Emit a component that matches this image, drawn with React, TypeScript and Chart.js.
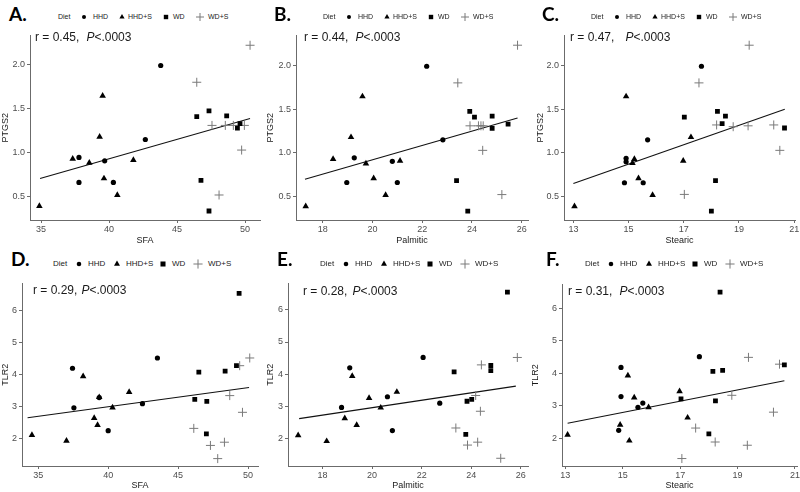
import React, { useEffect, useRef } from "react";
import { Chart, registerables } from "chart.js";
Chart.register(...registerables);

type Pt = [number, number];

const DIETS = ["HHD", "HHD+S", "WD", "WD+S"];

// ---------- Panel A: SFA vs PTGS2 ----------
const A_HHD: Pt[] = [[43.8, 1.99], [42.67, 1.15], [37.79, 0.946], [39.68, 0.908], [37.79, 0.663], [40.32, 0.663]];
const A_HHDS: Pt[] = [[34.88, 0.394], [39.53, 1.645], [39.31, 1.18], [37.33, 0.93], [38.55, 0.885], [39.63, 0.708], [41.79, 0.916], [40.61, 0.52]];
const A_WD: Pt[] = [[46.45, 1.41], [47.35, 1.475], [48.65, 1.418], [49.44, 1.28], [49.63, 1.33], [46.76, 0.685], [47.35, 0.338]];
const A_WDS: Pt[] = [[50.37, 2.22], [46.45, 1.8], [47.57, 1.31], [48.55, 1.31], [49.14, 1.31], [49.95, 1.31], [49.75, 1.03], [48.09, 0.52]];
const A_LINE: Pt[] = [[34.93, 0.708], [50.37, 1.388]];

// ---------- Panel B: Palmitic vs PTGS2 ----------
const B_HHD: Pt[] = [[22.18, 1.99], [22.83, 1.15], [19.27, 0.945], [20.8, 0.905], [18.97, 0.663], [21.0, 0.663]];
const B_HHDS: Pt[] = [[17.32, 0.39], [19.6, 1.645], [19.14, 1.18], [18.42, 0.93], [19.74, 0.88], [20.05, 0.71], [21.11, 0.91], [20.53, 0.52]];
const B_WD: Pt[] = [[23.91, 1.475], [24.1, 1.41], [24.81, 1.42], [24.81, 1.28], [25.45, 1.33], [23.38, 0.685], [23.83, 0.337]];
const B_WDS: Pt[] = [[25.83, 2.23], [23.43, 1.8], [23.92, 1.31], [24.26, 1.31], [24.36, 1.31], [24.45, 1.31], [24.43, 1.03], [25.2, 0.525]];
const B_LINE: Pt[] = [[17.29, 0.7], [25.83, 1.4]];

// ---------- Panel C: Stearic vs PTGS2 ----------
const C_HHD: Pt[] = [[17.64, 1.99], [15.69, 1.15], [14.91, 0.94], [14.91, 0.9], [14.85, 0.66], [15.53, 0.66]];
const C_HHDS: Pt[] = [[13.04, 0.39], [14.91, 1.645], [17.26, 1.18], [15.21, 0.93], [15.14, 0.885], [15.36, 0.71], [16.98, 0.91], [15.87, 0.52]];
const C_WD: Pt[] = [[17.02, 1.41], [18.22, 1.475], [18.51, 1.42], [18.39, 1.335], [20.65, 1.285], [18.15, 0.685], [18.0, 0.337]];
const C_WDS: Pt[] = [[19.37, 2.23], [17.55, 1.8], [18.19, 1.32], [18.79, 1.3], [19.33, 1.31], [20.26, 1.32], [20.48, 1.03], [17.02, 0.527]];
const C_LINE: Pt[] = [[13.0, 0.652], [20.66, 1.5]];

// ---------- Panel D: SFA vs TLR2 ----------
const D_HHD: Pt[] = [[43.52, 4.52], [37.45, 4.2], [37.55, 2.97], [39.36, 3.29], [42.45, 3.1], [40.0, 2.26]];
const D_HHDS: Pt[] = [[34.55, 2.12], [37.02, 1.94], [38.21, 3.95], [39.36, 3.3], [41.5, 3.46], [40.31, 2.98], [39.0, 2.65], [39.24, 2.43]];
const D_WD: Pt[] = [[49.36, 6.53], [46.48, 4.08], [48.36, 4.11], [49.17, 4.28], [46.19, 3.23], [47.05, 3.17], [47.02, 2.16]];
const D_WDS: Pt[] = [[50.12, 4.52], [49.4, 4.28], [48.69, 3.35], [49.6, 2.83], [46.12, 2.33], [47.31, 1.8], [48.31, 1.9], [47.83, 1.39]];
const D_LINE: Pt[] = [[34.24, 2.66], [50.07, 3.6]];

// ---------- Panel E: Palmitic vs TLR2 ----------
const E_HHD: Pt[] = [[22.06, 4.52], [19.1, 4.2], [18.77, 2.97], [20.62, 3.3], [22.73, 3.1], [20.82, 2.25]];
const E_HHDS: Pt[] = [[17.02, 2.1], [18.17, 1.92], [19.2, 3.94], [19.88, 3.26], [21.0, 3.45], [20.35, 2.96], [18.9, 2.63], [19.38, 2.42]];
const E_WD: Pt[] = [[25.46, 6.55], [23.31, 4.07], [24.79, 4.27], [24.79, 4.11], [23.83, 3.16], [24.02, 3.22], [23.78, 2.13]];
const E_WDS: Pt[] = [[25.86, 4.52], [24.41, 4.29], [24.18, 3.34], [24.37, 2.85], [23.38, 2.33], [23.85, 1.8], [24.26, 1.89], [25.19, 1.39]];
const E_LINE: Pt[] = [[17.06, 2.62], [25.8, 3.63]];

// ---------- Panel F: Stearic vs TLR2 ----------
const F_HHD: Pt[] = [[17.67, 4.51], [14.94, 4.18], [14.94, 3.28], [15.7, 3.08], [15.53, 2.95], [14.86, 2.24]];
const F_HHDS: Pt[] = [[13.08, 2.1], [15.23, 1.92], [15.18, 3.93], [15.4, 3.25], [16.98, 3.44], [15.9, 2.95], [17.26, 2.63], [14.91, 2.41]];
const F_WD: Pt[] = [[18.39, 6.5], [18.14, 4.06], [18.48, 4.09], [20.63, 4.26], [17.03, 3.21], [18.23, 3.15], [18.0, 2.13]];
const F_WDS: Pt[] = [[19.38, 4.49], [20.46, 4.28], [18.8, 3.32], [20.25, 2.8], [17.54, 2.31], [19.34, 1.78], [18.22, 1.88], [17.06, 1.37]];
const F_LINE: Pt[] = [[13.08, 2.46], [20.63, 3.77]];

// ---------- Tick labels ----------
const SFA_TICKS = [35, 40, 45, 50];
const PALMITIC_TICKS = [18, 20, 22, 24, 26];
const STEARIC_TICKS = [13, 15, 17, 19, 21];
const PTGS2_TICKS = [0.5, 1.0, 1.5, 2.0];
const TLR2_TICKS = [2, 3, 4, 5, 6];

const R_TEXTS = ["r = 0.45,", "r = 0.44,", "r = 0.47,", "r = 0.29,", "r = 0.28,", "r = 0.31,"];
const P_TEXT = "P<.0003";

const FONT = "'Liberation Sans', Arial, Helvetica, sans-serif";
const AXIS_COLOR = "#6b6b6b";
const TICK_COLOR = "#4d4d4d";
const TITLE_COLOR = "#1a1a1a";

const POINT_STYLES = ["circle", "triangle", "rect", "cross"];
const POINT_RADII = [2.6, 3.8, 3.4, 4.5];
const POINT_COLORS = ["#000000", "#000000", "#000000", "#7a7a7a"];

interface PanelCfg {
  letter: string;
  xLabel: string;
  yLabel: string;
  series: Pt[][];
  line: Pt[];
  xTicks: number[];
  yTicks: number[];
  yDec: number;
  xMin: number; xMax: number; yMin: number; yMax: number;
  cx: number; cy: number; cw: number; ch: number;
  yAxisW: number; xAxisH: number; padTop: number; padRight: number;
  letterX: number; letterY: number;
  legX: number; legY: number; legFs: number; legOffs: number[];
  rText: string; rGap: number; rX: number; rY: number;
}

const OFFS_TOP = [0, 26, 35, 64, 70, 108, 115, 142, 150];
const OFFS_BOT = [0, 26, 35, 64, 73, 110, 119, 145, 155];

const PANELS: PanelCfg[] = [
  {
    letter: "A.", xLabel: "SFA", yLabel: "PTGS2",
    series: [A_HHD, A_HHDS, A_WD, A_WDS], line: A_LINE,
    xTicks: SFA_TICKS, yTicks: PTGS2_TICKS, yDec: 1,
    xMin: 34.19, xMax: 51.1, yMin: 0.236, yMax: 2.332,
    cx: 0, cy: 28, cw: 275, ch: 218, yAxisW: 30, xAxisH: 26, padTop: 7, padRight: 15,
    letterX: 9, letterY: 4, legX: 58, legY: 17, legFs: 7, legOffs: OFFS_TOP,
    rText: R_TEXTS[0], rGap: 7, rX: 35, rY: 37,
  },
  {
    letter: "B.", xLabel: "Palmitic", yLabel: "PTGS2",
    series: [B_HHD, B_HHDS, B_WD, B_WDS], line: B_LINE,
    xTicks: PALMITIC_TICKS, yTicks: PTGS2_TICKS, yDec: 1,
    xMin: 16.93, xMax: 26.25, yMin: 0.235, yMax: 2.342,
    cx: 265, cy: 28, cw: 278, ch: 218, yAxisW: 31, xAxisH: 26, padTop: 7, padRight: 15,
    letterX: 274, letterY: 4, legX: 323, legY: 17, legFs: 7, legOffs: OFFS_TOP,
    rText: R_TEXTS[1], rGap: 7, rX: 304, rY: 37,
  },
  {
    letter: "C.", xLabel: "Stearic", yLabel: "PTGS2",
    series: [C_HHD, C_HHDS, C_WD, C_WDS], line: C_LINE,
    xTicks: STEARIC_TICKS, yTicks: PTGS2_TICKS, yDec: 1,
    xMin: 12.66, xMax: 21.03, yMin: 0.235, yMax: 2.342,
    cx: 535, cy: 28, cw: 275, ch: 218, yAxisW: 29, xAxisH: 26, padTop: 7, padRight: 15,
    letterX: 542, letterY: 4, legX: 591, legY: 17, legFs: 7, legOffs: OFFS_TOP,
    rText: R_TEXTS[2], rGap: 11, rX: 570, rY: 37,
  },
  {
    letter: "D.", xLabel: "SFA", yLabel: "TLR2",
    series: [D_HHD, D_HHDS, D_WD, D_WDS], line: D_LINE,
    xTicks: SFA_TICKS, yTicks: TLR2_TICKS, yDec: 0,
    xMin: 33.84, xMax: 50.71, yMin: 1.16, yMax: 6.84,
    cx: 0, cy: 276, cw: 273, ch: 215, yAxisW: 22, xAxisH: 25, padTop: 7, padRight: 15,
    letterX: 11, letterY: 249, legX: 53, legY: 264, legFs: 8, legOffs: OFFS_BOT,
    rText: R_TEXTS[3], rGap: 4, rX: 33, rY: 290,
  },
  {
    letter: "E.", xLabel: "Palmitic", yLabel: "TLR2",
    series: [E_HHD, E_HHDS, E_WD, E_WDS], line: E_LINE,
    xTicks: PALMITIC_TICKS, yTicks: TLR2_TICKS, yDec: 0,
    xMin: 16.61, xMax: 26.29, yMin: 1.15, yMax: 6.82,
    cx: 265, cy: 276, cw: 278, ch: 215, yAxisW: 23, xAxisH: 25, padTop: 7, padRight: 15,
    letterX: 277, letterY: 249, legX: 320, legY: 264, legFs: 8, legOffs: OFFS_BOT,
    rText: R_TEXTS[4], rGap: 5, rX: 303, rY: 291,
  },
  {
    letter: "F.", xLabel: "Stearic", yLabel: "TLR2",
    series: [F_HHD, F_HHDS, F_WD, F_WDS], line: F_LINE,
    xTicks: STEARIC_TICKS, yTicks: TLR2_TICKS, yDec: 0,
    xMin: 12.885, xMax: 21.07, yMin: 1.14, yMax: 6.74,
    cx: 530, cy: 277, cw: 282, ch: 214, yAxisW: 32, xAxisH: 25, padTop: 7, padRight: 15,
    letterX: 546, letterY: 249, legX: 585, legY: 264, legFs: 8, legOffs: OFFS_BOT,
    rText: R_TEXTS[5], rGap: 7, rX: 568, rY: 291,
  },
];

function PanelChart({ p }: { p: PanelCfg }) {
  const ref = useRef<HTMLCanvasElement>(null);
  useEffect(() => {
    if (!ref.current) return;
    const datasets: any[] = p.series.map((pts, i) => ({
      label: DIETS[i],
      data: pts.map(([x, y]) => ({ x, y })),
      pointStyle: POINT_STYLES[i],
      pointRadius: POINT_RADII[i],
      backgroundColor: POINT_COLORS[i],
      borderColor: POINT_COLORS[i],
      borderWidth: i === 3 ? 1 : 0,
    }));
    datasets.push({
      label: "fit",
      data: p.line.map(([x, y]) => ({ x, y })),
      showLine: true,
      pointRadius: 0,
      borderColor: "#111111",
      borderWidth: 1.1,
      fill: false,
    });
    const tickFont = { family: FONT, size: 9 };
    const titleFont = { family: FONT, size: 9 };
    const chart = new Chart(ref.current, {
      type: "scatter",
      data: { datasets },
      options: {
        animation: false,
        responsive: false,
        maintainAspectRatio: false,
        events: [],
        layout: { padding: { top: p.padTop, right: p.padRight, left: 0, bottom: 0 }, autoPadding: false } as any,
        plugins: { legend: { display: false }, tooltip: { enabled: false } },
        scales: {
          x: {
            type: "linear",
            min: p.xMin,
            max: p.xMax,
            afterBuildTicks: (s: any) => { s.ticks = p.xTicks.map((v) => ({ value: v })); },
            afterFit: (s: any) => { s.height = p.xAxisH; },
            grid: { drawOnChartArea: false, drawTicks: true, tickLength: 3, color: AXIS_COLOR, lineWidth: 1 },
            border: { display: true, color: AXIS_COLOR, width: 1 },
            ticks: { color: TICK_COLOR, font: tickFont, padding: 1, maxRotation: 0, autoSkip: false, callback: (v: any) => String(v) },
            title: { display: true, text: p.xLabel, color: TITLE_COLOR, font: titleFont, padding: 0 },
          },
          y: {
            type: "linear",
            min: p.yMin,
            max: p.yMax,
            afterBuildTicks: (s: any) => { s.ticks = p.yTicks.map((v) => ({ value: v })); },
            afterFit: (s: any) => { s.width = p.yAxisW; },
            grid: { drawOnChartArea: false, drawTicks: true, tickLength: 3, color: AXIS_COLOR, lineWidth: 1 },
            border: { display: true, color: AXIS_COLOR, width: 1 },
            ticks: { color: TICK_COLOR, font: tickFont, padding: 2, autoSkip: false, callback: (v: any) => Number(v).toFixed(p.yDec) },
            title: { display: true, text: p.yLabel, color: TITLE_COLOR, font: titleFont, padding: 0 },
          },
        },
      } as any,
    });
    return () => chart.destroy();
  }, [p]);
  return (
    <canvas
      ref={ref}
      width={p.cw}
      height={p.ch}
      style={{ position: "absolute", left: p.cx, top: p.cy, width: p.cw, height: p.ch }}
    />
  );
}

function Symbol({ kind, cx, cy, s }: { kind: number; cx: number; cy: number; s: number }) {
  const size = 10;
  const h = size / 2;
  let el: any = null;
  if (kind === 0) el = <circle cx={h} cy={h} r={2 * s} fill="#000" />;
  if (kind === 1) {
    const r = 3 * s;
    el = <polygon points={`${h},${h - r} ${h + r * 0.866},${h + r * 0.5} ${h - r * 0.866},${h + r * 0.5}`} fill="#000" />;
  }
  if (kind === 2) el = <rect x={h - 2.2 * s} y={h - 2.2 * s} width={4.4 * s} height={4.4 * s} fill="#000" />;
  if (kind === 3) {
    const r = 4 * s;
    el = (
      <g stroke="#7a7a7a" strokeWidth={1}>
        <line x1={h - r} y1={h} x2={h + r} y2={h} />
        <line x1={h} y1={h - r} x2={h} y2={h + r} />
      </g>
    );
  }
  return (
    <svg width={size} height={size} style={{ position: "absolute", left: cx - h, top: cy - h, overflow: "visible" }}>
      {el}
    </svg>
  );
}

function Overlay({ p }: { p: PanelCfg }) {
  const fs = p.legFs;
  const textStyle = (x: number): React.CSSProperties => ({
    position: "absolute",
    left: x,
    top: p.legY - fs * 0.6,
    fontSize: fs,
    lineHeight: `${fs * 1.2}px`,
    color: "#222",
    whiteSpace: "nowrap",
    fontFamily: FONT,
  });
  const o = p.legOffs;
  const s = fs / 7;
  return (
    <>
      <div
        style={{
          position: "absolute", left: p.letterX, top: p.letterY, fontFamily: "Lato, 'Open Sans', sans-serif",
          fontWeight: 700, fontSize: 19, lineHeight: "19px", color: "#000",
        }}
      >
        {p.letter}
      </div>
      <div style={textStyle(p.legX + o[0])}>Diet</div>
      {DIETS.map((d, i) => (
        <React.Fragment key={d}>
          <Symbol kind={i} cx={p.legX + o[1 + i * 2]} cy={p.legY} s={s} />
          <div style={textStyle(p.legX + o[2 + i * 2])}>{d}</div>
        </React.Fragment>
      ))}
      <div
        style={{
          position: "absolute", left: p.rX, top: p.rY - 7, fontSize: 12, lineHeight: "14px",
          color: "#1a1a1a", whiteSpace: "nowrap", fontFamily: FONT,
        }}
      >
        <span>{p.rText}</span>
        <span style={{ fontStyle: "italic", marginLeft: p.rGap }}>P</span>
        <span>{P_TEXT.slice(1)}</span>
      </div>
    </>
  );
}

export default function App() {
  return (
    <div
      style={{
        position: "fixed", left: 0, top: 0, width: 800, height: 492, overflow: "hidden",
        background: "#ffffff", fontFamily: FONT,
      }}
    >
      {PANELS.map((p) => (
        <PanelChart key={p.letter} p={p} />
      ))}
      {PANELS.map((p) => (
        <Overlay key={"o" + p.letter} p={p} />
      ))}
    </div>
  );
}
